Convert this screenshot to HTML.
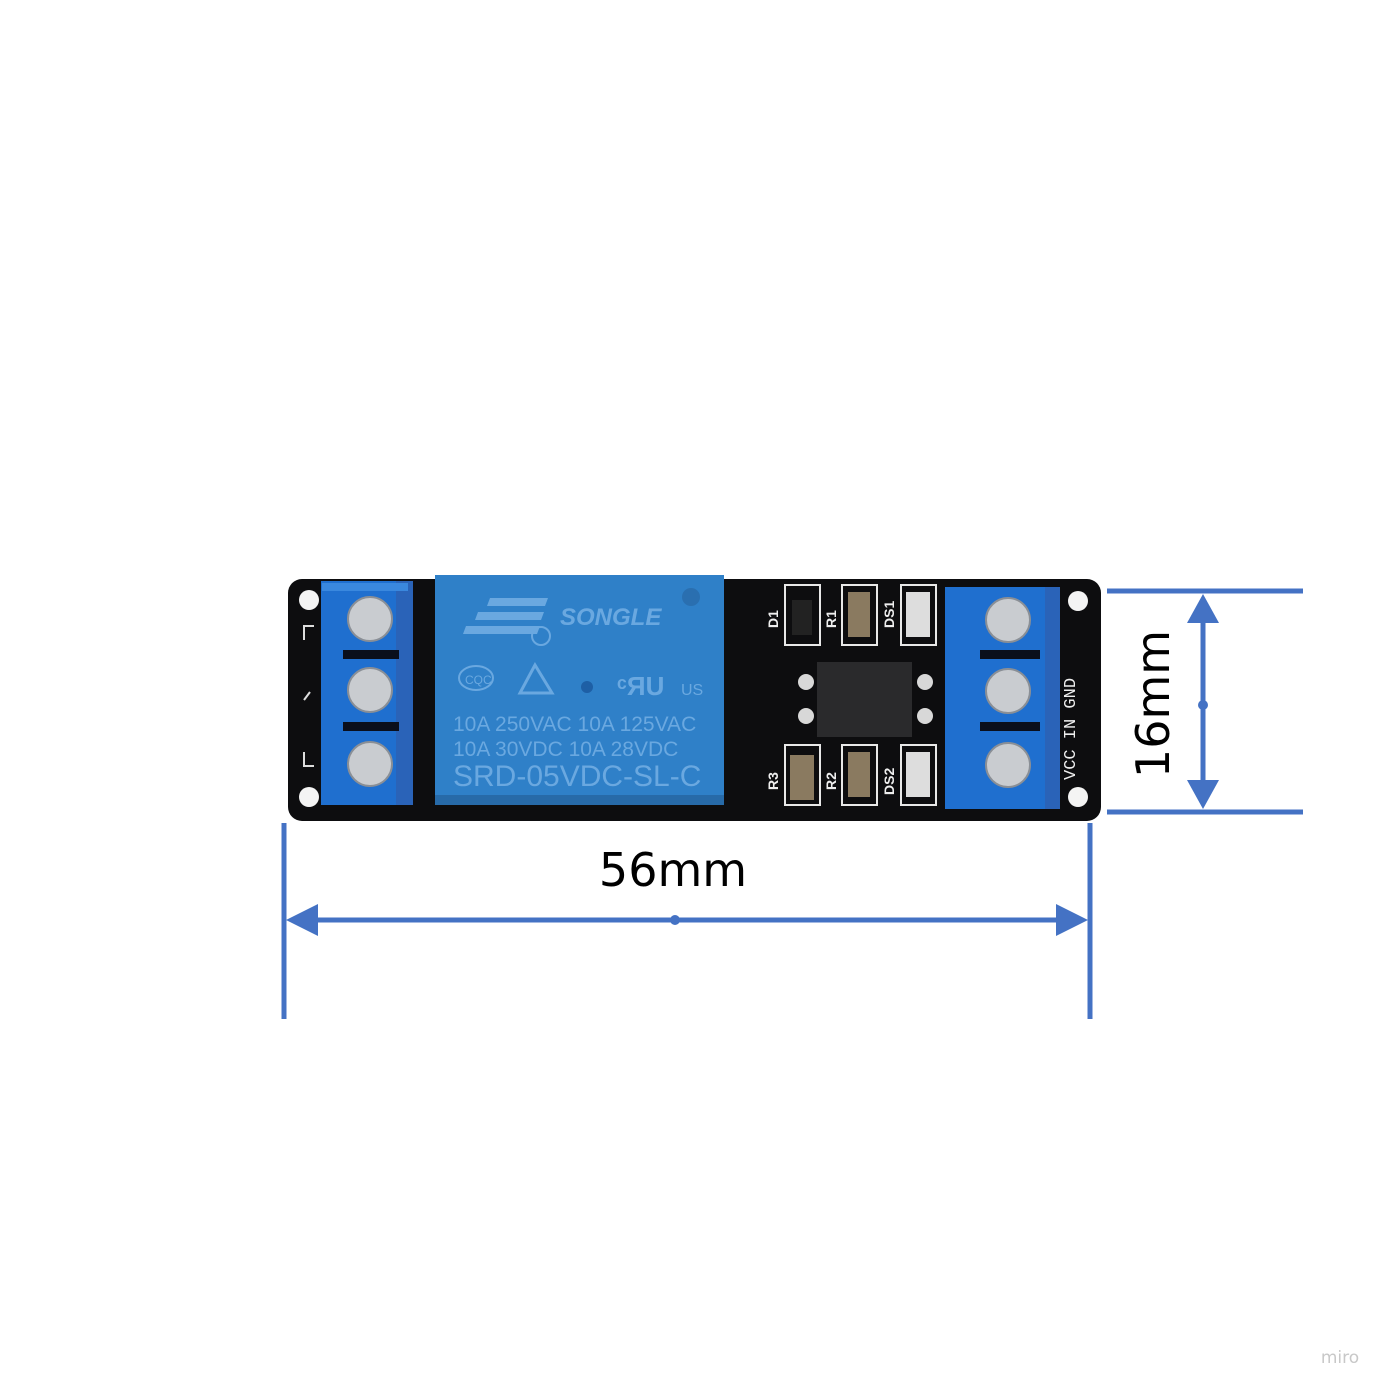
<!DOCTYPE html>
<html><head><meta charset="utf-8"><style>
html,body{margin:0;padding:0;background:#fff}
svg{display:block}
</style></head><body>
<svg width="1395" height="1396" viewBox="0 0 1395 1396" xmlns="http://www.w3.org/2000/svg">
<rect width="1395" height="1396" fill="#fff"/>
<!-- board -->
<rect x="288" y="579" width="813" height="242" rx="14" fill="#0d0d0f"/>
<circle cx="309" cy="600" r="10" fill="#f4f4f4"/>
<circle cx="309" cy="797" r="10" fill="#f4f4f4"/>
<circle cx="1078" cy="601" r="10" fill="#f4f4f4"/>
<circle cx="1078" cy="797" r="10" fill="#f4f4f4"/>
<g fill="none" stroke="#ddd" stroke-width="2">
<path d="M304 640 v-14 h10"/><path d="M304 700 l6 -8"/><path d="M304 752 v14 h10"/>
</g>
<!-- left terminal -->
<rect x="321" y="581" width="92" height="224" fill="#1f6fcf"/>
<rect x="396" y="581" width="17" height="224" fill="#2a63b8"/>
<rect x="322" y="583" width="86" height="8" fill="#3a88de"/>
<rect x="343" y="650" width="56" height="9" fill="#0a0f1c"/>
<rect x="343" y="722" width="56" height="9" fill="#0a0f1c"/>
<g fill="#c9ccd0" stroke="#8a8f96" stroke-width="2">
<circle cx="370" cy="619" r="22"/><circle cx="370" cy="690" r="22"/><circle cx="370" cy="764" r="22"/>
</g>
<!-- relay -->
<rect x="435" y="575" width="289" height="230" fill="#2f80c8"/>
<rect x="435" y="795" width="289" height="10" fill="#276aa8"/>
<circle cx="691" cy="597" r="9" fill="#2a6fb0"/>
<circle cx="587" cy="687" r="6" fill="#1e5fa5"/>
<g fill="#6aa8e0">
<polygon points="490,598 548,598 545,606 487,606"/>
<polygon points="478,612 544,612 541,620 475,620"/>
<polygon points="466,626 540,626 537,634 463,634"/>
</g>
<circle cx="541" cy="636" r="9" fill="none" stroke="#6aa8e0" stroke-width="2"/>
<ellipse cx="476" cy="678" rx="17" ry="12" fill="none" stroke="#6aa8e0" stroke-width="2"/>
<polygon points="535,665 520,693 552,693" fill="none" stroke="#6aa8e0" stroke-width="3"/>
<g fill="#6aa8e0" font-family="Liberation Sans, sans-serif">
<text x="560" y="625" font-size="24" font-style="italic" font-weight="bold">SONGLE</text>
<text x="453" y="731" font-size="21">10A 250VAC  10A 125VAC</text>
<text x="453" y="756" font-size="21">10A  30VDC  10A  28VDC</text>
<text x="453" y="786" font-size="30">SRD-05VDC-SL-C</text>
<text x="465" y="684" font-size="12">CQC</text>
<text x="617" y="695" font-size="26" font-weight="bold">ᶜЯU</text>
<text x="681" y="695" font-size="16">US</text>
</g>
<!-- components -->
<g fill="none" stroke="#e8e8e8" stroke-width="2">
<rect x="785" y="585" width="35" height="60"/><rect x="842" y="585" width="35" height="60"/><rect x="901" y="585" width="35" height="60"/>
<rect x="785" y="745" width="35" height="60"/><rect x="842" y="745" width="35" height="60"/><rect x="901" y="745" width="35" height="60"/>
</g>
<rect x="817" y="662" width="95" height="75" fill="#2a2a2c"/>
<g fill="#d8d8d8"><circle cx="806" cy="682" r="8"/><circle cx="806" cy="716" r="8"/><circle cx="925" cy="682" r="8"/><circle cx="925" cy="716" r="8"/></g>
<rect x="906" y="592" width="24" height="45" fill="#ddd"/>
<rect x="906" y="752" width="24" height="45" fill="#ddd"/>
<rect x="848" y="592" width="22" height="45" fill="#8a7a60"/>
<rect x="848" y="752" width="22" height="45" fill="#8a7a60"/>
<rect x="790" y="755" width="24" height="45" fill="#8a7a60"/>
<rect x="792" y="600" width="20" height="35" fill="#222"/>
<g fill="#eee" font-family="Liberation Sans, sans-serif" font-size="14" font-weight="bold">
<text transform="translate(778,628) rotate(-90)">D1</text><text transform="translate(836,628) rotate(-90)">R1</text><text transform="translate(894,628) rotate(-90)">DS1</text>
<text transform="translate(778,790) rotate(-90)">R3</text><text transform="translate(836,790) rotate(-90)">R2</text><text transform="translate(894,795) rotate(-90)">DS2</text>
<text transform="translate(1075,780) rotate(-90)" font-family="Liberation Mono, monospace" font-weight="normal" font-size="17">VCC IN GND</text>
</g>
<!-- right terminal -->
<rect x="945" y="587" width="115" height="222" fill="#1f6fcf"/>
<rect x="1045" y="587" width="15" height="222" fill="#2a63b8"/>
<rect x="980" y="650" width="60" height="9" fill="#0a0f1c"/>
<rect x="980" y="722" width="60" height="9" fill="#0a0f1c"/>
<g fill="#c9ccd0" stroke="#8a8f96" stroke-width="2">
<circle cx="1008" cy="620" r="22"/><circle cx="1008" cy="691" r="22"/><circle cx="1008" cy="765" r="22"/>
</g>
<!-- dimensions -->
<g stroke="#4472c4" stroke-width="5" fill="none">
<line x1="284" y1="823" x2="284" y2="1019"/>
<line x1="1090" y1="823" x2="1090" y2="1019"/>
<line x1="300" y1="920" x2="1075" y2="920"/>
<line x1="1107" y1="591" x2="1303" y2="591"/>
<line x1="1107" y1="812" x2="1303" y2="812"/>
<line x1="1203" y1="610" x2="1203" y2="795"/>
</g>
<g fill="#4472c4">
<polygon points="286,920 318,904 318,936"/>
<polygon points="1088,920 1056,904 1056,936"/>
<polygon points="1203,594 1187,623 1219,623"/>
<polygon points="1203,809 1187,780 1219,780"/>
<circle cx="675" cy="920" r="5"/>
<circle cx="1203" cy="705" r="5"/>
</g>
<text x="673" y="886" text-anchor="middle" font-family="DejaVu Sans, sans-serif" font-size="46" fill="#000">56mm</text>
<text transform="translate(1169,704) rotate(-90)" text-anchor="middle" font-family="DejaVu Sans, sans-serif" font-size="46" fill="#000">16mm</text>
<text x="1340" y="1363" text-anchor="middle" font-family="DejaVu Sans, sans-serif" font-size="17" fill="#c8c8c8">miro</text>
</svg>
</body></html>
